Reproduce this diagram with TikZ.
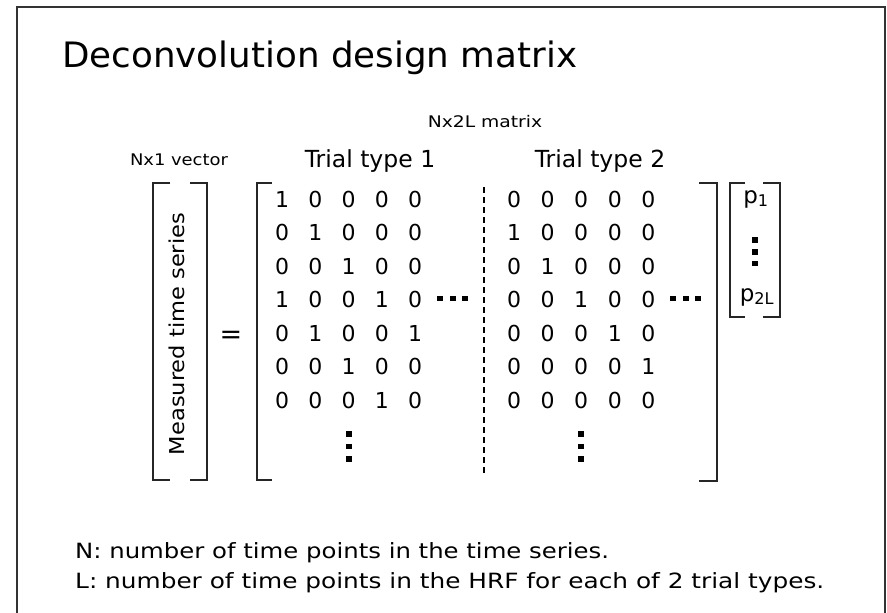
\documentclass[tikz,border=0pt]{standalone}
\usepackage{fontspec}
\setmainfont{DejaVu Sans}
\begin{document}
\begin{tikzpicture}[x=1pt,y=-1pt,
  frame/.style={draw=black!80,line width=2pt},
  brack/.style={draw=black!85,line width=1.4pt},
  entry/.style={inner sep=0pt,font=\fontsize{22}{24}\selectfont},
  sqdot/.style={fill=black},
  small/.style={inner sep=0pt,font=\fontsize{16}{18}\selectfont},
  head/.style={inner sep=0pt,font=\fontsize{23.5}{26}\selectfont},
  note/.style={inner sep=0pt,font=\fontsize{21}{24}\selectfont,anchor=base west}]
\useasboundingbox (0,0) rectangle (887,613);
% slide frame (bottom edge lies below the page)
\draw[frame] (17,613) -- (17,7) -- (885,7) -- (885,613);

% title
\node[inner sep=0pt,anchor=base west,font=\fontsize{35}{38}\selectfont] (title) at (62,67) {\scalebox{1.02}[1]{Deconvolution design matrix}};

% headings
\node[small,anchor=base] (nx2l) at (485,127) {\scalebox{1.17}[1]{Nx2L matrix}};
\node[small,anchor=base] (nx1) at (179,165) {\scalebox{1.12}[1]{Nx1 vector}};
\node[head,anchor=base] (tt1) at (370,167) {Trial type 1};
\node[head,anchor=base] (tt2) at (600,167) {Trial type 2};

% measured vector
\draw[brack] (170,183) -- (153,183) -- (153,480) -- (170,480);
\draw[brack] (190,183) -- (207,183) -- (207,480) -- (190,480);
\node[inner sep=0pt,rotate=90,font=\fontsize{20.5}{24}\selectfont] (meas) at (177,334) {\scalebox{1.1}[1]{Measured time series}};

% equals sign
\node[inner sep=0pt,font=\fontsize{27}{29}\selectfont] (eq) at (231,337) {=};

% design matrix brackets and divider
\draw[brack] (272,183) -- (257,183) -- (257,480) -- (272,480);
\draw[brack] (699,183) -- (717,183) -- (717,481) -- (699,481);
\draw[line width=1.3pt,dash pattern=on 6pt off 4pt] (484,187) -- (484,474);

% trial type 1 columns
\foreach \r/\vals in {1/{1,0,0,0,0},2/{0,1,0,0,0},3/{0,0,1,0,0},4/{1,0,0,1,0},
                      5/{0,1,0,0,1},6/{0,0,1,0,0},7/{0,0,0,1,0}}{
  \foreach \v [count=\c] in \vals{
    \node[entry] (a-\r-\c) at ({282+(\c-1)*33.3},{199+(\r-1)*33.5}) {\v};
  }
}
% trial type 2 columns
\foreach \r/\vals in {1/{0,0,0,0,0},2/{1,0,0,0,0},3/{0,1,0,0,0},4/{0,0,1,0,0},
                      5/{0,0,0,1,0},6/{0,0,0,0,1},7/{0,0,0,0,0}}{
  \foreach \v [count=\c] in \vals{
    \node[entry] (b-\r-\c) at ({514+(\c-1)*33.6},{199+(\r-1)*33.5}) {\v};
  }
}

% continuation dots
\foreach \x in {440,452.5,465}{\fill[sqdot] (\x-3,295.5) rectangle (\x+3,300.5);}
\foreach \x in {673,685.5,698}{\fill[sqdot] (\x-3,295.5) rectangle (\x+3,300.5);}
\foreach \yy in {434,446.5,459}{\fill[sqdot] (346,\yy-2.7) rectangle (352,\yy+2.7);}
\foreach \yy in {434,446.5,459}{\fill[sqdot] (578,\yy-2.7) rectangle (584,\yy+2.7);}

% parameter vector
\draw[brack] (745,183) -- (730,183) -- (730,317) -- (745,317);
\draw[brack] (763,183) -- (780,183) -- (780,317) -- (763,317);
\node[inner sep=0pt,font=\fontsize{23}{25}\selectfont] (p1) at (756,199) {p\textsubscript{1}};
\node[inner sep=0pt,font=\fontsize{23}{25}\selectfont] (p2l) at (757,297) {p\textsubscript{2L}};
\foreach \yy in {240,252,263.5}{\fill[sqdot] (752,\yy-2.7) rectangle (758,\yy+2.7);}

% notes
\node[note] (noteN) at (75,558) {\scalebox{1.16}[1]{N: number of time points in the time series.}};
\node[note] (noteL) at (75,588) {\scalebox{1.18}[1]{L: number of time points in the HRF for each of 2 trial types.}};
\end{tikzpicture}
\end{document}
